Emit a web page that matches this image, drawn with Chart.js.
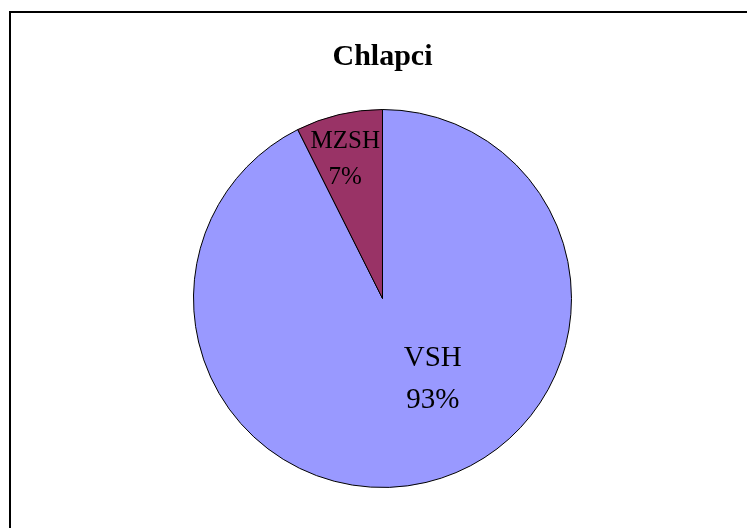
<!DOCTYPE html>
<html lang="cs">
<head>
<meta charset="UTF-8">
<title>Chlapci</title>
<script src="https://cdn.jsdelivr.net/npm/chart.js@4.4.0/dist/chart.umd.min.js"></script>
<style>
  body { margin: 0; background: #fff; }
  .wrap { position: relative; width: 747px; height: 528px; overflow: hidden; }
  .frame {
    position: absolute; left: 9px; top: 11px;
    width: 800px; height: 600px;
    border: 2px solid #000;
  }
  canvas { position: absolute; left: 0; top: 0; }
</style>
</head>
<body>
<div class="wrap">
  <div class="frame"></div>
  <canvas id="pie" width="747" height="528"></canvas>
</div>
<script>
const categories = ["VSH", "MZSH"];
const values = [92.6, 7.4];
const sliceColors = ["#9999FF", "#993366"];

// label placement relative to the pie centre, as a fraction of the radius
const labelOffsets = [[0.266, 0.426], [-0.197, -0.734]];
const labelFonts = [29, 25];

const sliceLabels = {
  id: "sliceLabels",
  afterDatasetsDraw(chart) {
    const ctx = chart.ctx;
    const total = values.reduce((a, b) => a + b, 0);
    chart.getDatasetMeta(0).data.forEach((arc, i) => {
      const r = arc.outerRadius;
      const x = arc.x + labelOffsets[i][0] * r;
      const y = arc.y + labelOffsets[i][1] * r;
      const size = labelFonts[i];
      ctx.save();
      ctx.fillStyle = "#000";
      ctx.font = size + "px 'Liberation Serif', 'Times New Roman', serif";
      ctx.textAlign = "center";
      ctx.textBaseline = "middle";
      ctx.fillText(categories[i], x, y - size * 0.72);
      ctx.fillText(Math.round(values[i] / total * 100) + "%", x, y + size * 0.72);
      ctx.restore();
    });
  }
};

new Chart("pie", {
  type: "pie",
  data: {
    labels: categories,
    datasets: [{
      data: values,
      backgroundColor: sliceColors,
      borderColor: "#000",
      borderWidth: 1
    }]
  },
  options: {
    responsive: false,
    animation: false,
    layout: { padding: { top: 0, bottom: 40, left: 192, right: 174 } },
    plugins: {
      legend: { display: false },
      tooltip: { enabled: false },
      title: {
        display: true,
        text: "Chlapci",
        color: "#000",
        font: { family: "'Liberation Serif', 'Times New Roman', serif", size: 30, weight: "bold" },
        padding: { top: 39, bottom: 34 }
      }
    }
  },
  plugins: [sliceLabels]
});
</script>
</body>
</html>
